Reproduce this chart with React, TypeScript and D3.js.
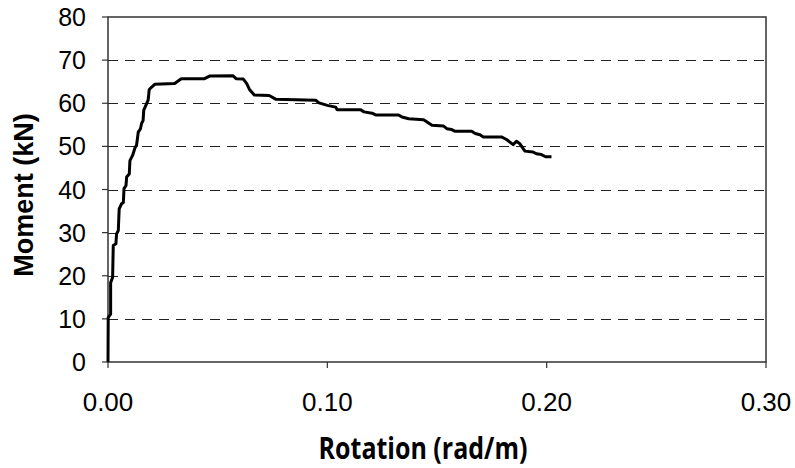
import React, { useRef, useEffect } from 'react';
import * as d3 from 'd3';

// rotation (rad/m) vs moment (kN)
const rotation = [
  0, 0.0001, 0.0012, 0.0012, 0.0021, 0.0024, 0.0036, 0.0039, 0.0047, 0.0051,
  0.0062, 0.007, 0.0073, 0.0082, 0.0085, 0.0097, 0.01, 0.0112, 0.0124, 0.013,
  0.0138, 0.0148, 0.0153, 0.016, 0.0163, 0.0176, 0.0183, 0.0188, 0.0198, 0.0213,
  0.0304, 0.0334, 0.044, 0.0463, 0.0569, 0.0584, 0.0617, 0.0632, 0.0645, 0.0667,
  0.0735, 0.0766, 0.0947, 0.0962, 0.1, 0.1038, 0.1045, 0.1152, 0.1167, 0.1204,
  0.122, 0.1325, 0.134, 0.1371, 0.1439, 0.1477, 0.153, 0.1545, 0.1567, 0.1583,
  0.1658, 0.1674, 0.1696, 0.1711, 0.1794, 0.1817, 0.1847, 0.1862, 0.1878, 0.1901,
  0.1938, 0.1953, 0.1976, 0.1995, 0.2022,
];
const moment = [
  0, 10.3, 11.1, 18.4, 19.6, 27.0, 27.4, 29.7, 30.5, 35.5,
  36.7, 37.0, 40.2, 40.9, 42.9, 43.6, 46.7, 47.9, 49.8, 50.2,
  53.3, 54.1, 55.3, 56.0, 58.4, 59.9, 60.7, 63.2, 63.7, 64.4,
  64.6, 65.7, 65.7, 66.3, 66.4, 65.7, 65.6, 64.6, 63.2, 61.9,
  61.8, 60.9, 60.7, 60.1, 59.5, 59.1, 58.5, 58.5, 58.0, 57.7,
  57.3, 57.3, 56.8, 56.4, 56.2, 54.9, 54.7, 54.1, 53.9, 53.5,
  53.5, 53.0, 52.7, 52.2, 52.2, 51.6, 50.4, 51.2, 50.6, 48.9,
  48.7, 48.3, 48.1, 47.6, 47.6,
];
const xTicks = [0, 0.1, 0.2, 0.3];
const yTicks = [0, 10, 20, 30, 40, 50, 60, 70, 80];

const width = 795;
const height = 468;
const left = 108;
const right = 766;
const top = 17;
const bottom = 362;

const App = () => {
  const svgRef = useRef<SVGSVGElement>(null);

  useEffect(() => {
    const svg = d3.select(svgRef.current);
    svg.selectAll('*').remove();

    const x = d3.scaleLinear().domain([0, 0.3]).range([left, right]);
    const y = d3.scaleLinear().domain([0, 80]).range([bottom, top]);

    // dashed gridlines
    svg.append('g')
      .selectAll('line')
      .data(yTicks.filter((d) => d > 0 && d < 80))
      .enter()
      .append('line')
      .attr('x1', left)
      .attr('x2', right)
      .attr('y1', (d) => Math.round(y(d)) + 0.5)
      .attr('y2', (d) => Math.round(y(d)) + 0.5)
      .attr('stroke', '#222')
      .attr('stroke-width', 1.2)
      .attr('stroke-dasharray', '10,7');

    // plot frame
    svg.append('rect')
      .attr('x', left)
      .attr('y', top)
      .attr('width', right - left)
      .attr('height', bottom - top)
      .attr('fill', 'none')
      .attr('stroke', '#333')
      .attr('stroke-width', 1.5);

    // y axis ticks + labels
    const yAxis = svg.append('g').attr('transform', `translate(${left},0)`);
    yAxis.selectAll('line')
      .data(yTicks)
      .enter()
      .append('line')
      .attr('x1', -6)
      .attr('x2', 0)
      .attr('y1', (d) => y(d))
      .attr('y2', (d) => y(d))
      .attr('stroke', '#333')
      .attr('stroke-width', 1.2);
    yAxis.selectAll('text')
      .data(yTicks)
      .enter()
      .append('text')
      .attr('x', -22)
      .attr('y', (d) => y(d) + 9)
      .attr('text-anchor', 'end')
      .style('font-family', '"Liberation Sans", Arial, sans-serif')
      .style('font-size', '25px')
      .attr('fill', '#000')
      .text((d) => d);

    // x axis ticks + labels
    const xAxis = svg.append('g').attr('transform', `translate(0,${bottom})`);
    xAxis.selectAll('line')
      .data(xTicks)
      .enter()
      .append('line')
      .attr('x1', (d) => x(d))
      .attr('x2', (d) => x(d))
      .attr('y1', 0)
      .attr('y2', 6)
      .attr('stroke', '#333')
      .attr('stroke-width', 1.2);
    xAxis.selectAll('text')
      .data(xTicks)
      .enter()
      .append('text')
      .attr('x', (d) => x(d))
      .attr('y', 49)
      .attr('text-anchor', 'middle')
      .style('font-family', '"Liberation Sans", Arial, sans-serif')
      .style('font-size', '26px')
      .attr('fill', '#000')
      .text((d) => d3.format('.2f')(d));

    // curve
    const pts: [number, number][] = rotation.map((r, i) => [r, moment[i]]);
    const line = d3.line<[number, number]>()
      .x((d) => x(d[0]))
      .y((d) => y(d[1]));
    svg.append('path')
      .datum(pts)
      .attr('d', line)
      .attr('fill', 'none')
      .attr('stroke', '#000')
      .attr('stroke-width', 3)
      .attr('stroke-linejoin', 'round');

    // axis titles
    svg.append('text')
      .attr('transform', `translate(423,459) scale(1,1.2)`)
      .attr('text-anchor', 'middle')
      .style('font-family', '"Open Sans", sans-serif')
      .style('font-weight', 'bold')
      .style('font-size', '25px')
      .attr('fill', '#000')
      .text('Rotation (rad/m)');

    svg.append('text')
      .attr('transform', `translate(33,195) rotate(-90)`)
      .attr('text-anchor', 'middle')
      .style('font-family', '"Liberation Sans", Arial, sans-serif')
      .style('font-weight', 'bold')
      .style('font-size', '27px')
      .attr('fill', '#000')
      .text('Moment (kN)');
  }, []);

  return (
    <svg
      ref={svgRef}
      width={width}
      height={height}
      style={{ position: 'absolute', left: 0, top: 0, background: '#fff' }}
    />
  );
};

export default App;
